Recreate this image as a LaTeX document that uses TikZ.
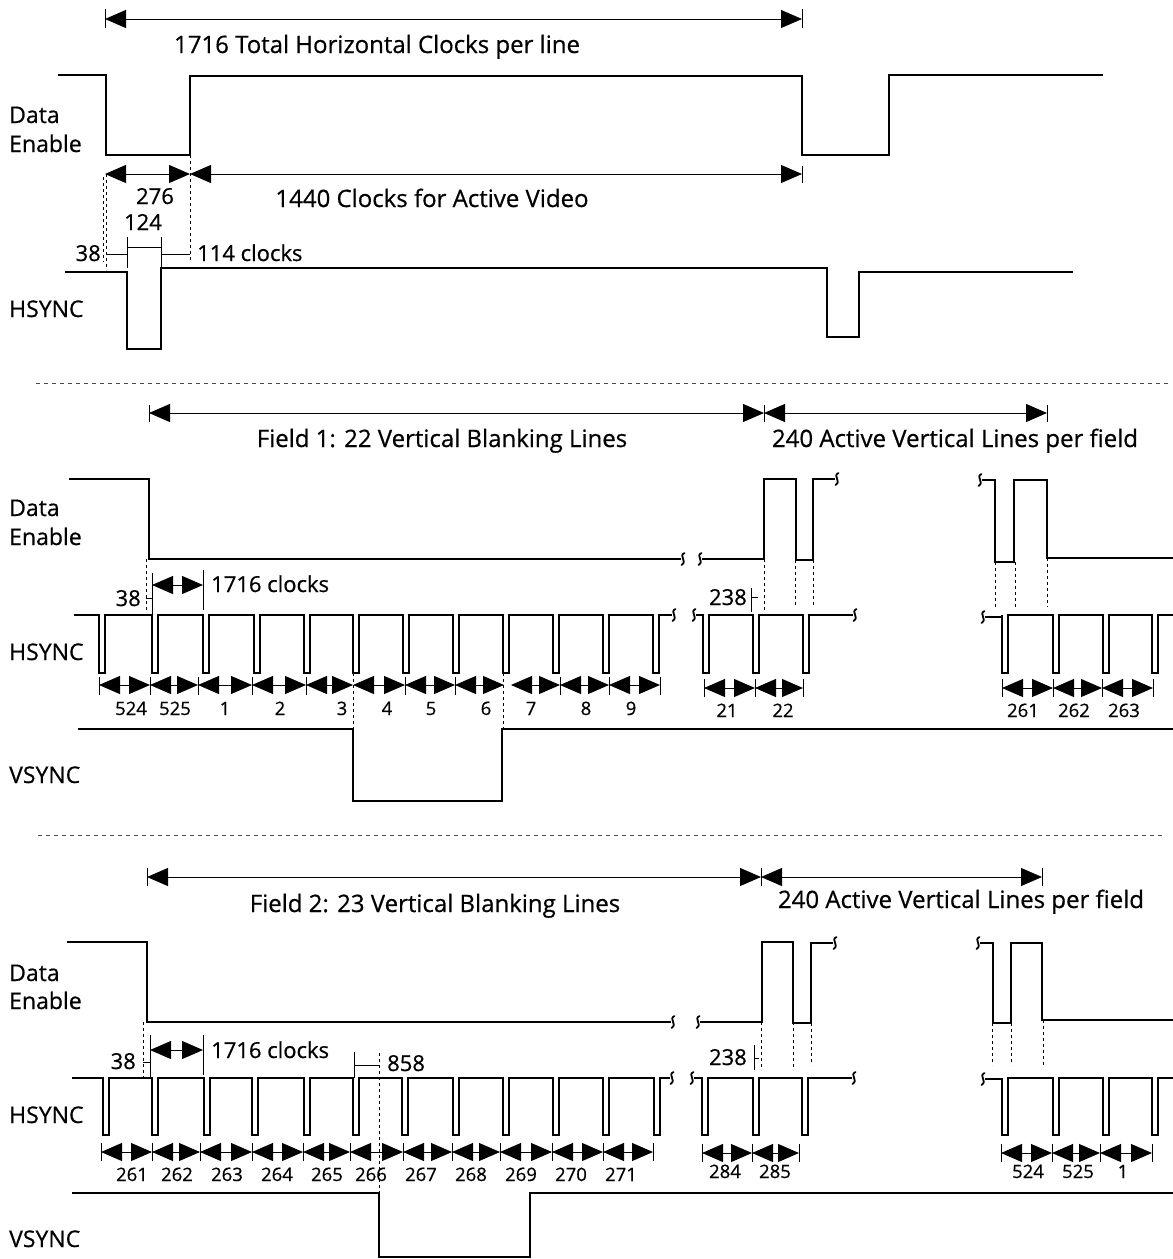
\documentclass[tikz,border=0pt]{standalone}
\usepackage{fontspec}
\setmainfont{Open Sans}[FakeBold=0.6]
\usetikzlibrary{arrows.meta}
\begin{document}
\begin{tikzpicture}[x=1pt,y=-1pt,
  sig/.style={line width=1.4pt,line join=miter},
  dimline/.style={line width=1pt},
  dimarrow/.style={line width=1pt,arrows={Triangle[length=21pt,width=18pt]-Triangle[length=21pt,width=18pt]}},
  dsh/.style={line width=0.9pt,dash pattern=on 3pt off 3pt},
  sepline/.style={line width=0.9pt,dash pattern=on 4pt off 4pt,black!70},
  lab/.style={font=\fontsize{23}{27}\selectfont,inner sep=0pt},
  ttl/.style={font=\fontsize{24}{28}\selectfont,inner sep=0pt},
  dimtxt/.style={font=\fontsize{22}{26}\selectfont,inner sep=0pt},
  num/.style={font=\fontsize{18.5}{22}\selectfont,inner sep=0pt},
  brk/.pic={\draw[line width=1.8pt,line cap=round] (1.5,-6) .. controls (-5,-3) and (5,2) .. (-1.5,6);}
]
\useasboundingbox (0,0) rectangle (1173,1259);

% ================= TOP SECTION =================
\draw[dimarrow] (105,19) -- (802,19);
\draw[dimline] (105,9) -- (105,28);
\draw[dimline] (802,9) -- (802,28);
\node[ttl,anchor=base] (ttop) at (377,53) {1716 Total Horizontal Clocks per line};

\node[lab,anchor=base west] (de1a) at (9,123) {Data};
\node[lab,anchor=base west] (de1b) at (9,152) {Enable};
\draw[sig] (58,75) -- (106,75) -- (106,155) -- (190,155) -- (190,76) -- (802,76) -- (802,155) -- (889,155) -- (889,75) -- (1103,75);

\draw[dimarrow] (105,174) -- (190,174);
\draw[dimarrow] (190,174) -- (802,174);
\draw[dimline] (802,166) -- (802,183);
\node[dimtxt,anchor=base] (n276) at (155,204) {276};
\node[ttl,anchor=base] (t1440) at (432,207) {1440 Clocks for Active Video};
\node[dimtxt,anchor=base] (n124) at (143,230) {124};
\node[dimtxt,anchor=base east] (n38a) at (101,261) {38};
\node[dimtxt,anchor=base west] (n114) at (197,261) {114 clocks};

\draw[dsh] (103,177) -- (103,262);
\draw[dsh] (106,174) -- (106,270);
\draw[dsh] (190,155) -- (190,262);
\draw[dimline] (106,254) -- (127,254);
\draw[dimline] (161,254) -- (190,254);
\draw[dimline] (127,237) -- (127,268);
\draw[dimline] (161,237) -- (161,268);
\draw[dimline] (127,247) -- (161,247);

\node[lab,anchor=base west] (hs1) at (9,317) {HSYNC};
\draw[sig] (65,272) -- (127,272) -- (127,349) -- (161,349) -- (161,268) -- (827,268) -- (827,337) -- (859,337) -- (859,272) -- (1073,272);

\draw[sepline] (36,383) -- (1168,383);

% ================= MIDDLE SECTION =================
\draw[dimarrow] (149,413) -- (764,413);
\draw[dimarrow] (764,413) -- (1047,413);
\foreach \t in {149,764,1047} \draw[dimline] (\t,405) -- (\t,422);
\node[ttl,anchor=base] (f1) at (442,447) {Field 1: 22 Vertical Blanking Lines};
\node[ttl,anchor=base] (a1) at (955,447) {240 Active Vertical Lines per field};

\node[lab,anchor=base west] (de2a) at (9,516) {Data};
\node[lab,anchor=base west] (de2b) at (9,545) {Enable};
\draw[sig] (69,479) -- (149,479) -- (149,559) -- (681,559);
\pic at (683,559) {brk};
\pic at (700,559) {brk};
\draw[sig] (702,559) -- (764,559) -- (764,479) -- (796,479) -- (796,560) -- (813,560) -- (813,479) -- (835,479);
\pic at (837,479) {brk};
\pic at (980,480) {brk};
\draw[sig] (982,480) -- (995,480) -- (995,562) -- (1014,562) -- (1014,480) -- (1047,480) -- (1047,558) -- (1173,558);
\foreach \t/\a/\b in {146/559/610,764/559/610,795/560/607,813/560/606,995/562/607,1015/562/607,1047/558/607}
  \draw[dsh] (\t,\a) -- (\t,\b);

\node[dimtxt,anchor=base east] (n38b) at (141,606) {38};
\draw[dimline] (146,598) -- (152,598);
\draw[dimline] (152,573) -- (152,615);
\draw[dimarrow] (152,585) -- (203,585);
\draw[dimline] (203,570) -- (203,610);
\node[dimtxt,anchor=base west] (c1716a) at (211,592) {1716 clocks};
\node[dimtxt,anchor=base east] (n238a) at (747,605) {238};
\draw[dimline] (751,588) -- (751,612);
\draw[dimline] (751,597) -- (758,597);

\node[lab,anchor=base west] (hs2) at (9,660) {HSYNC};
\draw[sig] (74,615) \foreach \p in {99,152,203,254,304,353,403,453,503,553,603,653} {-- (\p,615) -- (\p,673) -- ({\p+6},673) -- ({\p+6},615)} -- (672,615);
\pic at (674,615) {brk};
\pic at (694,615) {brk};
\draw[sig] (696,615) \foreach \p in {703,753,803} {-- (\p,615) -- (\p,673) -- ({\p+6},673) -- ({\p+6},615)} -- (853,615);
\pic at (855,615) {brk};
\pic at (983,617) {brk};
\draw[sig] (985,617) -- (1002,617) \foreach \p in {1002,1053,1103,1152} {-- (\p,615) -- (\p,673) -- ({\p+6},673) -- ({\p+6},615)} -- (1173,615);

\foreach \a/\b in {99/150,150/198,198/252,252/306,306/353,353/405,405/455,455/504,511/560,560/609,609/660}
  \draw[dimarrow] (\a,685) -- (\b,685);
\foreach \t in {99,150,198,252,306,405,455,560,609,660} \draw[dimline] (\t,677) -- (\t,695);
\foreach \a/\b in {704/755,755/803,1002/1053,1053/1102,1102/1153}
  \draw[dimarrow] (\a,688) -- (\b,688);
\foreach \t in {704,755,803,1002,1053,1102,1153} \draw[dimline] (\t,679) -- (\t,697);
\foreach \x/\s [count=\i] in {131/524,175/525,225/1,280/2,342/3,387/4,431/5,486/6,531/7,586/8,631/9}
  \node[num,anchor=base] (m\i) at (\x,715) {\s};
\foreach \x/\s [count=\i] in {727/21,783/22,1023/261,1074/262,1124/263}
  \node[num,anchor=base] (mr\i) at (\x,717) {\s};

\draw[dsh] (353,673) -- (353,729);
\draw[dsh] (503,673) -- (503,729);
\node[lab,anchor=base west] (vs2) at (9,783) {VSYNC};
\draw[sig] (78,729) -- (353,729) -- (353,801) -- (502,801) -- (502,729) -- (1173,729);

\draw[sepline] (38,835) -- (1162,835);

% ================= BOTTOM SECTION =================
\draw[dimarrow] (147,877) -- (761,877);
\draw[dimarrow] (761,877) -- (1042,877);
\foreach \t in {147,761,1042} \draw[dimline] (\t,868) -- (\t,886);
\node[ttl,anchor=base] (f2) at (435,912) {Field 2: 23 Vertical Blanking Lines};
\node[ttl,anchor=base] (a2) at (961,908) {240 Active Vertical Lines per field};

\node[lab,anchor=base west] (de3a) at (9,981) {Data};
\node[lab,anchor=base west] (de3b) at (9,1009) {Enable};
\draw[sig] (67,942) -- (147,942) -- (147,1022) -- (671,1022);
\pic at (673,1022) {brk};
\pic at (698,1022) {brk};
\draw[sig] (700,1022) -- (762,1022) -- (762,942) -- (793,942) -- (793,1023) -- (811,1023) -- (811,943) -- (833,943);
\pic at (835,943) {brk};
\pic at (978,943) {brk};
\draw[sig] (980,943) -- (993,943) -- (993,1023) -- (1011,1023) -- (1011,943) -- (1042,943) -- (1042,1020) -- (1173,1020);
\foreach \t/\a/\b in {143/1022/1077,761/1022/1070,793/1022/1070,811/1023/1065,992/1023/1065,1011/1023/1065,1043/1020/1065}
  \draw[dsh] (\t,\a) -- (\t,\b);

\node[dimtxt,anchor=base east] (n38c) at (136,1069) {38};
\draw[dimline] (143,1062) -- (150,1062);
\draw[dimline] (150,1035) -- (150,1078);
\draw[dimarrow] (150,1050) -- (203,1050);
\draw[dimline] (203,1035) -- (203,1075);
\node[dimtxt,anchor=base west] (c1716b) at (211,1058) {1716 clocks};
\draw[dimline] (354,1052) -- (354,1078);
\draw[dimline] (354,1065) -- (379,1065);
\draw[dsh] (379,1053) -- (379,1193);
\node[dimtxt,anchor=base west] (n858) at (387,1071) {858};
\node[dimtxt,anchor=base east] (n238b) at (747,1065) {238};
\draw[dimline] (754,1045) -- (754,1070);
\draw[dimline] (754,1058) -- (759,1058);

\node[lab,anchor=base west] (hs3) at (9,1123) {HSYNC};
\draw[sig] (72,1078) \foreach \p in {103,152,204,252,304,353,402,453,503,553,603,654} {-- (\p,1078) -- (\p,1135) -- ({\p+6},1135) -- ({\p+6},1078)} -- (670,1078);
\pic at (672,1078) {brk};
\pic at (692,1078) {brk};
\draw[sig] (694,1078) \foreach \p in {702,753,802} {-- (\p,1078) -- (\p,1135) -- ({\p+6},1135) -- ({\p+6},1078)} -- (852,1078);
\pic at (854,1078) {brk};
\pic at (983,1079) {brk};
\draw[sig] (985,1079) -- (1002,1079) \foreach \p in {1002,1053,1103,1152} {-- (\p,1078) -- (\p,1135) -- ({\p+6},1135) -- ({\p+6},1078)} -- (1173,1078);

\foreach \a/\b in {101/152,152/200,200/252,252/303,303/350,350/403,403/452,452/500,500/552,552/603,603/653}
  \draw[dimarrow] (\a,1152) -- (\b,1152);
\foreach \t in {101,152,200,252,303,350,403,452,500,552,603,653} \draw[dimline] (\t,1143) -- (\t,1161);
\foreach \a/\b in {702/752,752/799,1001/1052,1052/1100,1100/1152}
  \draw[dimarrow] (\a,1153) -- (\b,1153);
\foreach \t in {702,752,799,1001,1052,1100,1152} \draw[dimline] (\t,1144) -- (\t,1162);
\foreach \x/\s [count=\i] in {132/261,177/262,227/263,277/264,327/265,371/266,421/267,471/268,521/269,571/270,621/271}
  \node[num,anchor=base] (b\i) at (\x,1181) {\s};
\foreach \x/\s [count=\i] in {725/284,775/285,1028/524,1078/525,1123/1}
  \node[num,anchor=base] (br\i) at (\x,1178) {\s};

\node[lab,anchor=base west] (vs3) at (9,1247) {VSYNC};
\draw[sig] (72,1193) -- (379,1193) -- (379,1257) -- (530,1257) -- (530,1193) -- (1173,1193);
\end{tikzpicture}
\end{document}
